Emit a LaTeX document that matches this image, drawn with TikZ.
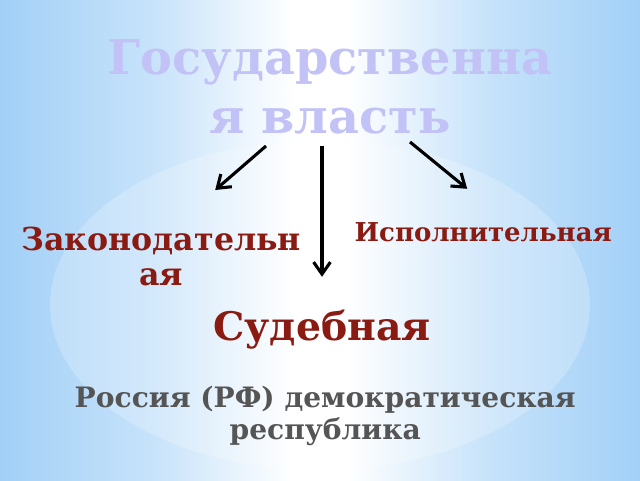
\documentclass[tikz,border=0pt]{standalone}
\usepackage{fontspec}
\setmainfont{DejaVu Serif}
\usetikzlibrary{arrows.meta,positioning}

\definecolor{sky}{HTML}{A2D0F7}
\definecolor{titlecol}{HTML}{C2C2F7}
\definecolor{branchred}{HTML}{8A1B12}
\definecolor{notegray}{HTML}{555555}

\pgfdeclarehorizontalshading{bgshade}{100bp}{color(0bp)=(sky); color(25bp)=(sky);
  color(37bp)=(sky!60!white); color(48bp)=(white); color(52bp)=(white);
  color(63bp)=(sky!60!white); color(75bp)=(sky); color(100bp)=(sky)}

\tikzset{
    %Define standard arrow tip
    >={Straight Barb[length=3mm,width=4.2mm]},
    %Define style for the texts
    titel/.style={
           text=titlecol,
           font=\bfseries\fontsize{34}{42}\selectfont,
           align=center},
    gren/.style={
           text=branchred,
           font=\bfseries\fontsize{22.5}{25}\selectfont,
           align=center},
    notis/.style={
           text=notegray,
           font=\bfseries\fontsize{20}{23}\selectfont,
           align=center},
    % Define arrow style
    pil/.style={
           ->,
           line width=2.2pt}
}

\begin{document}
\begin{tikzpicture}
 %Background
 \useasboundingbox (0,0) rectangle (16,12);
 \shade[shading=bgshade] (0,0) rectangle (16,12);
 \fill[white,opacity=0.22] (8,4.375) ellipse (6.75 and 4.125);

 %Texts
 \node[titel] (power) at (8.25,9.83) {Государственна\\я власть};
 \node[gren] (leg) at (4.03,5.58) {Законодательн\\ая};
 \node[gren,font=\bfseries\fontsize{18.5}{20}\selectfont] (exe) at (12.08,6.2) {Исполнительная};
 \node[gren,font=\bfseries\fontsize{28}{30}\selectfont] (jud) at (8.05,3.75) {Судебная};
 \node[notis] (rf) at (8.13,1.6) {Россия (РФ) демократическая\\республика};

 %Arrow ends
 \coordinate (pl) at (6.65,8.35);
 \coordinate (pm) at (8.05,8.35);
 \coordinate (pr) at (10.25,8.45);
 \coordinate (ql) at (5.38,7.25);
 \coordinate (qm) at (8.05,5.08);
 \coordinate (qr) at (11.68,7.28);

 \draw[pil] (pl) -- (ql);
 \draw[pil] (pm) -- (qm);
 \draw[pil] (pr) -- (qr);
\end{tikzpicture}
\end{document}
